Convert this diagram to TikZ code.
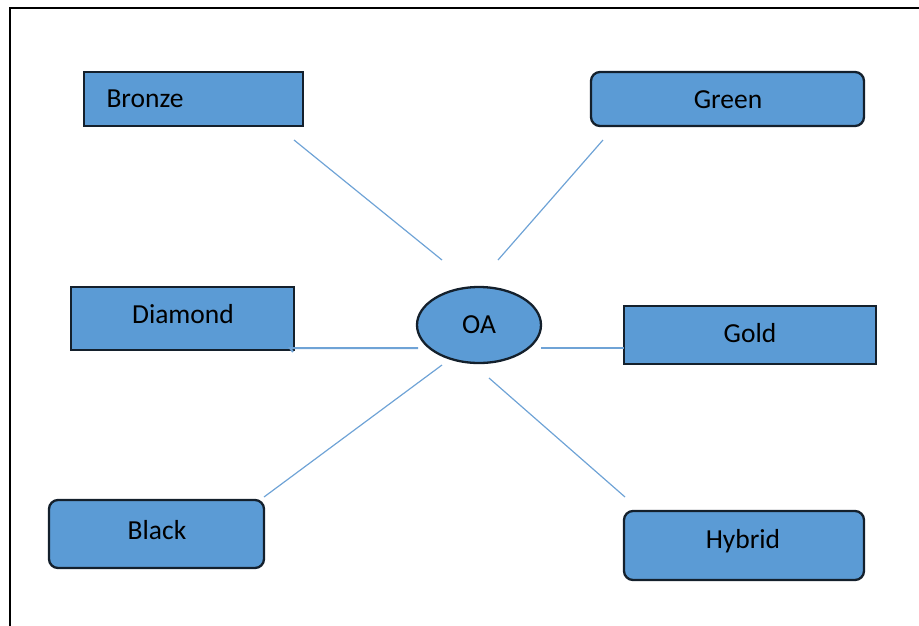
\documentclass[tikz,border=0pt]{standalone}
\usepackage{fontspec}
\setmainfont{Carlito}
\usetikzlibrary{shapes.geometric}
\definecolor{boxblue}{HTML}{5B9BD5}
\definecolor{edgedark}{HTML}{14202C}
\definecolor{linkblue}{HTML}{6FA3D6}
\begin{document}
\begin{tikzpicture}[x=1pt,y=-1pt,
  box/.style={draw=edgedark,line width=2.3pt,fill=boxblue,inner sep=0pt},
  rbox/.style={box,rounded corners=9pt},
  lbl/.style={font=\fontsize{27.5}{30}\selectfont,text=black},
  link/.style={draw=linkblue,line width=1.2pt}]
\useasboundingbox (0,0) rectangle (919,625);
\draw[line width=2.5pt] (10,8) rectangle (930,640);
% boxes
\path[box] (84,72) rectangle (303,126);
\node[lbl,anchor=west] (bronze) at (103,99) {Bronze};
\path[rbox] (591,72) rectangle (864,126);
\node[lbl] (green) at (728,100) {Green};
\path[box] (71,287) rectangle (294,350);
\node[lbl] (diamond) at (183,314) {Diamond};
\node[ellipse,draw=edgedark,line width=2.3pt,fill=boxblue,minimum width=124pt,minimum height=76pt,inner sep=0pt,lbl] (oa) at (479,325) {OA};
\path[box] (624,306) rectangle (876,364);
\node[lbl] (gold) at (750,333) {Gold};
\path[rbox] (49,500) rectangle (264,568);
\node[lbl] (black) at (157,530) {Black};
\path[rbox] (624,511) rectangle (864,580);
\node[lbl] (hybrid) at (743,541) {Hybrid};
% connector ends
\coordinate (a1) at (294,140); \coordinate (a2) at (442,260);
\coordinate (b1) at (603,140); \coordinate (b2) at (498,260);
\coordinate (c1) at (418,348); \coordinate (c2) at (290,348);
\coordinate (d1) at (541,348); \coordinate (d2) at (624,348);
\coordinate (e1) at (442,365); \coordinate (e2) at (264,497);
\coordinate (f1) at (489,378); \coordinate (f2) at (625,497);
\draw[link] (a1) -- (a2);
\draw[link] (b1) -- (b2);
\draw[link,line width=2pt] (c1) -- (c2) -- ++(3,4);
\draw[link] (d1) -- (d2);
\draw[link] (e1) -- (e2);
\draw[link] (f1) -- (f2);
\end{tikzpicture}
\end{document}
